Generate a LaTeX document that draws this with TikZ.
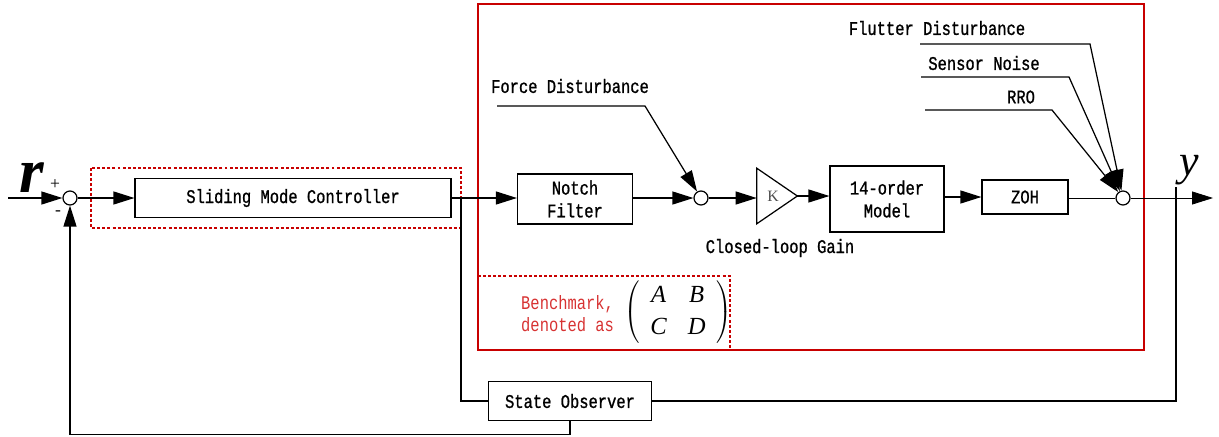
\documentclass[tikz,border=0pt]{standalone}
\usepackage{fontspec}
\setmainfont{Liberation Serif}
\newfontfamily\blkfont[FakeStretch=0.8,FakeBold=1]{Liberation Mono}
\newfontfamily\notefont[FakeStretch=0.8]{Liberation Mono}
\usetikzlibrary{arrows.meta,positioning,calc}
\definecolor{framered}{RGB}{200,0,0}
\definecolor{notered}{RGB}{215,50,50}
\tikzset{
  line/.style={line width=0.7pt},
  thinline/.style={line width=0.45pt},
  arr/.style={line, -{Triangle[length=4.2mm,width=2.6mm]}},
  blk/.style={draw, line, align=center, inner sep=0pt,
              font=\blkfont\fontsize{11}{13}\selectfont},
  sumnode/.style={draw, line, circle, minimum size=0.28cm, inner sep=0pt, fill=white},
  gainnode/.style={minimum width=0.8cm, minimum height=1.1cm, inner sep=0pt,
                   font=\fontsize{9}{10}\selectfont, text=black!70},
  lbl/.style={font=\blkfont\fontsize{11}{13}\selectfont},
  plantbox/.style={draw=framered, line width=0.8pt},
  dotframe/.style={draw=framered, line width=0.8pt, dash pattern=on 1.7pt off 1.2pt},
}

\begin{document}
\begin{tikzpicture}[x=0.02cm, y=-0.02cm]
\useasboundingbox (0,0) rectangle (1219,436);

% ---------------- frames ----------------
\draw[plantbox] (478,4) rectangle (1144,350);
\draw[dotframe] (91,168) rectangle (461,228);
\draw[dotframe] (478,276) -- (730,276) -- (730,350);

% ---------------- forward path ----------------
\coordinate (rin) at (8,198);
\node[sumnode] (s1) at (70,198) {};
\node[blk, minimum width=6.32cm, minimum height=0.78cm] (smc) at (293,198)
  {Sliding Mode Controller};
\node[blk, minimum width=2.3cm, minimum height=1.0cm] (notch) at (575,199)
  {Notch\\Filter};
\node[sumnode] (s2) at (701,198) {};
% gain: triangle drawn on the corners of an empty box
\node[gainnode] (gain) at (777,196) {};
\draw[line] (gain.north west) -- (gain.east) -- (gain.south west) -- cycle;
\node[font=\fontsize{9}{10}\selectfont, text=black!70] (gaink) at (773,196) {K};
\node[blk, minimum width=2.28cm, minimum height=1.32cm] (model) at (887,199)
  {14-order\\Model};
\node[blk, minimum width=1.72cm, minimum height=0.68cm] (zoh) at (1025,197) {ZOH};
\node[sumnode] (s3) at (1123,198) {};
\coordinate (yout) at (1213,198);

\draw[arr] (rin) -- (s1);
\draw[arr] (s1) -- (smc);
\draw[arr] (smc.east |- s1) -- (notch.west |- s1);
\draw[arr] (notch.east |- s2) -- (s2);
\draw[arr] (s2) -- (gain.west |- s2);
\draw[arr] (gain.east) -- (model.west |- gain.east);
\draw[arr] (model.east |- zoh) -- (zoh);
\draw[thinline] (zoh.east |- s3) -- (s3);
\draw[thinline, -{Triangle[length=4.2mm,width=2.6mm]}] (s3) -- (yout);

\node[font=\bfseries\itshape\fontsize{36}{36}\selectfont] (rlab) at (32,178) {r};
\node[font=\fontsize{10}{10}\selectfont] (plus) at (55,185) {+};
\node[font=\fontsize{10}{10}\selectfont] (minus) at (58,213) {-};
\node[font=\itshape\fontsize{25}{25}\selectfont] (ylab) at (1189,170) {y};
\node[lbl] (gainlab) at (780,248) {Closed-loop Gain};

% ---------------- disturbances ----------------
\node[lbl] (fdlab) at (570,86) {Force Disturbance};
\coordinate (fd1) at (497,106);
\coordinate (fd2) at (645,106);
\draw[arr] (fd1) -- (fd2) -- (s2);

\node[lbl] (fllab) at (937,28) {Flutter Disturbance};
\coordinate (fl1) at (920,44);
\coordinate (fl2) at (1090,44);
\draw[arr] (fl1) -- (fl2) -- (s3);

\node[lbl] (snlab) at (984,63) {Sensor Noise};
\coordinate (sn1) at (921,77);
\coordinate (sn2) at (1069,77);
\draw[arr] (sn1) -- (sn2) -- (s3);

\node[lbl] (rrolab) at (1021,97) {RRO};
\coordinate (rr1) at (925,110);
\coordinate (rr2) at (1052,110);
\draw[arr] (rr1) -- (rr2) -- (s3);

% ---------------- benchmark note ----------------
\node[font=\notefont\fontsize{11}{12.5}\selectfont, text=notered, align=left,
      anchor=west] (bench) at (515,314) {Benchmark,\\denoted as};
\node[font=\fontsize{14}{16}\selectfont] (abcd) at (678,312)
  {\renewcommand{\arraystretch}{1.15}\setlength{\arraycolsep}{6pt}%
   $\left(\begin{array}{cc}\textit{A} & \textit{B}\\ \textit{C} & \textit{D}\end{array}\right)$};

% ---------------- observer loop ----------------
\node[blk, minimum width=3.26cm, minimum height=0.78cm] (obs) at (570,401)
  {State Observer};
\coordinate (br) at (461,198);
\coordinate (ytick) at (1176,187);
\draw[line] (br) |- (obs.west);
\draw[line] (ytick) |- (obs.east);
\draw[arr] (obs.south) -- ++(0,13) -| (s1.south);
\end{tikzpicture}
\end{document}
